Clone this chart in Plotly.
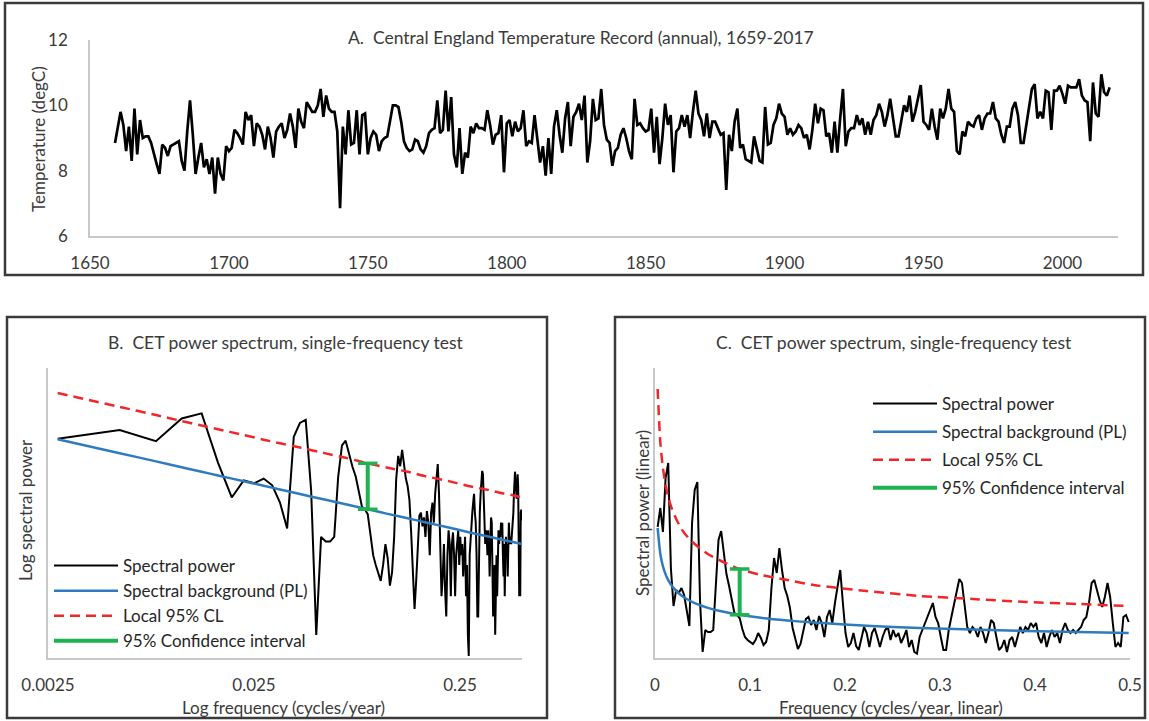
import plotly.graph_objects as go

W, H = 1149, 721

# ---------------- Panel A data: CET annual means, 1659-2017 ----------------
cet_temps = [
    8.85,
    9.3, 9.8, 9.4, 8.6, 9.35, 8.3, 9.9, 8.5, 9.55, 9.0,          # 1660s
    9.05, 9.05, 8.85, 8.5, 8.2, 7.9, 8.8, 8.7, 8.45, 8.75,       # 1670s
    8.8, 8.85, 8.9, 8.3, 8.0, 9.2, 10.15, 9.1, 7.9, 8.4,         # 1680s
    8.85, 8.1, 8.35, 7.9, 8.4, 7.3, 8.4, 7.9, 7.7, 8.75,         # 1690s
    8.6, 8.7, 9.25, 9.15, 9.0, 8.8, 9.8, 9.55, 9.7, 8.75,        # 1700s
    9.45, 9.35, 9.1, 8.65, 9.35, 9.0, 8.4, 9.2, 9.35, 9.45,      # 1710s
    9.0, 9.25, 9.75, 9.35, 8.7, 9.9, 9.5, 9.3, 10.1, 9.95,       # 1720s
    9.8, 9.8, 10.0, 10.5, 9.65, 10.3, 9.9, 9.8, 9.8, 9.2,        # 1730s
    6.85, 9.35, 8.5, 9.85, 8.8, 8.85, 9.85, 8.5, 9.7, 9.75,      # 1740s
    8.5, 9.0, 9.2, 9.1, 8.6, 8.9, 9.0, 9.05, 9.5, 10.0,          # 1750s
    10.0, 9.95, 9.5, 8.9, 8.7, 8.6, 8.65, 8.95, 8.9, 8.65,       # 1760s
    8.55, 8.75, 9.15, 9.25, 9.3, 10.15, 9.15, 9.25, 10.45, 9.2,  # 1770s
    10.25, 8.5, 8.1, 9.3, 7.9, 8.55, 8.4, 9.35, 9.15, 9.45,      # 1780s
    9.3, 9.3, 9.25, 9.85, 9.4, 8.8, 9.1, 9.15, 9.7, 7.95,        # 1790s
    9.45, 9.55, 9.05, 9.5, 9.2, 9.3, 9.85, 8.75, 8.9, 8.85,      # 1800s
    9.7, 9.0, 8.25, 8.75, 7.85, 9.0, 7.9, 9.35, 9.85, 9.1,       # 1810s
    8.55, 9.6, 10.1, 8.75, 9.65, 9.8, 10.05, 9.55, 10.3, 8.25,   # 1820s
    8.9, 10.2, 9.55, 9.6, 10.5, 9.4, 8.95, 8.85, 8.15, 8.6,      # 1830s
    8.7, 9.1, 9.3, 9.0, 8.6, 8.35, 10.2, 9.4, 9.45, 9.3,         # 1840s
    9.2, 9.25, 9.9, 8.55, 9.65, 8.2, 9.0, 10.05, 9.4, 9.7,       # 1850s
    7.95, 9.2, 9.3, 9.7, 9.35, 9.7, 9.0, 9.8, 10.45, 9.75,       # 1860s
    9.55, 9.05, 9.75, 9.0, 9.5, 9.5, 9.3, 9.1, 9.15, 7.41,       # 1870s
    9.1, 8.6, 9.5, 9.9, 8.7, 8.8, 8.35, 8.3, 8.25, 9.05,         # 1880s
    8.7, 8.3, 8.25, 9.95, 8.8, 8.85, 9.4, 9.6, 10.05, 9.75,      # 1890s
    9.65, 9.1, 9.3, 9.1, 9.2, 9.4, 9.3, 9.0, 9.1, 8.65,          # 1900s
    9.25, 10.05, 9.45, 9.9, 9.85, 9.05, 9.15, 8.55, 9.5, 8.55,   # 1910s
    9.6, 10.5, 8.75, 9.2, 9.3, 9.3, 9.7, 9.4, 9.6, 9.1,          # 1920s
    9.5, 9.1, 9.55, 9.7, 10.05, 9.8, 9.35, 9.7, 10.2, 9.6,       # 1930s
    9.05, 9.05, 9.6, 10.0, 9.8, 10.3, 9.5, 9.8, 10.2, 10.62,     # 1940s
    9.5, 9.4, 9.25, 9.9, 9.35, 8.95, 9.9, 9.6, 9.9, 10.5,        # 1950s
    9.9, 9.8, 8.6, 8.5, 9.2, 9.05, 9.5, 9.4, 9.35, 9.6,          # 1960s
    9.7, 9.25, 9.6, 9.75, 9.75, 10.1, 9.6, 9.5, 9.1, 8.85,       # 1970s
    9.35, 9.35, 9.9, 10.1, 9.7, 8.85, 8.85, 9.45, 9.9, 10.5,     # 1980s
    10.65, 9.6, 9.8, 9.6, 10.45, 10.4, 9.25, 10.45, 10.45, 10.6, # 1990s
    10.35, 10.05, 10.6, 10.55, 10.55, 10.55, 10.8, 10.3, 10.15, 10.1,  # 2000s
    8.9, 10.7, 9.75, 9.65, 10.95, 10.4, 10.3, 10.55,             # 2010-2017
]
first_year = 1659
years = list(range(first_year, first_year + len(cet_temps)))
a_xticks = [1650, 1700, 1750, 1800, 1850, 1900, 1950, 2000]
a_yticks = [6, 8, 10, 12]

# ---------------- Panels B & C data: power spectrum ----------------
record_length = 359
spec_k = list(range(1, 180))
spec_freq = [k / record_length for k in spec_k]
spec_power = [
    131, 150, 126, 180, 195, 90, 52, 68, 65, 70,
    63, 48, 32, 135, 168, 176, 58, 6, 28, 26,
    26, 28, 72, 118, 127, 102, 84, 72, 57, 45,
    43, 40, 29, 21, 18, 16, 14, 18, 25, 20,
    13, 16, 28, 70, 100, 85, 110, 88, 70, 62,
    50, 30, 18, 9, 14, 26, 39, 41, 33, 38,
    28, 42, 35, 21, 41, 48, 35, 55, 71, 88,
    55, 25, 11, 15, 25, 12, 8, 21, 31, 25,
    11, 25, 30, 21, 11, 21, 28, 31, 18, 28,
    21, 25, 15, 21, 28, 11, 18, 6, 4.3, 21,
    28, 35, 41, 48, 55, 41, 35, 21, 8, 8,
    28, 41, 55, 68, 79, 75, 55, 31, 25, 31,
    28, 21, 31, 25, 15, 25, 38, 35, 21, 8,
    11, 18, 6, 18, 21, 11, 21, 31, 25, 31,
    28, 35, 31, 35, 21, 15, 25, 11, 21, 28,
    21, 25, 15, 28, 35, 28, 25, 28, 25, 28,
    31, 38, 41, 55, 75, 78, 68, 58, 51, 61,
    75, 61, 35, 11, 15, 11, 41, 43, 36,
]

bg_k = [1, 2, 3, 4, 5, 6, 8, 10, 12, 15, 20, 25, 32, 40, 50, 60, 80, 100, 120, 140, 160, 179]
bg_freq = [k / record_length for k in bg_k]
bg_power = [130, 104.3, 91.7, 83.6, 77.9, 73.5, 67.1, 62.5, 59.0, 54.9, 50.1, 46.7,
            43.2, 40.2, 37.5, 35.4, 32.3, 30.0, 28.4, 27.0, 25.9, 25.0]
cl_power = [269, 216, 190, 173, 161, 152, 139, 129, 122, 114, 104, 97,
            89, 83, 78, 73, 67, 62, 59, 56, 54, 52]

ci_freq = 32 / record_length
ci_low = 43.2
ci_high = 89.0

b_xticks = [0.0025, 0.025, 0.25]
b_xticktext = ["0.0025", "0.025", "0.25"]
c_xticks = [0, 0.1, 0.2, 0.3, 0.4, 0.5]
c_xticktext = ["0", "0.1", "0.2", "0.3", "0.4", "0.5"]

# ---------------- styling ----------------
FONT = "Lato, 'Open Sans', sans-serif"
TXT = "#3a3a3a"
AXLINE = "#c8c8c8"
BLACK = "#000000"
BLUE = "#2e7bbf"
RED = "#f2262a"
GREEN = "#1db350"


def px(x):
    return x / W


def py(y):
    return 1 - y / H


fig = go.Figure()

# Panel A
fig.add_trace(go.Scatter(x=years, y=cet_temps, mode="lines",
                         line=dict(color=BLACK, width=2.7),
                         xaxis="x", yaxis="y", showlegend=False))

# Panels B (x2/y2) and C (x3/y3)
for xa, ya, lg, grp in [("x2", "y2", "legend", "b"), ("x3", "y3", "legend2", "c")]:
    fig.add_trace(go.Scatter(x=spec_freq, y=spec_power, mode="lines", name="Spectral power",
                             line=dict(color=BLACK, width=2), xaxis=xa, yaxis=ya,
                             legend=lg, legendgroup=grp + "1"))
    fig.add_trace(go.Scatter(x=bg_freq, y=bg_power, mode="lines", name="Spectral background (PL)",
                             line=dict(color=BLUE, width=2.5, shape="spline", smoothing=0.6),
                             xaxis=xa, yaxis=ya, legend=lg, legendgroup=grp + "2"))
    fig.add_trace(go.Scatter(x=bg_freq, y=cl_power, mode="lines", name="Local 95% CL",
                             line=dict(color=RED, width=2.5, dash="10px,6px", shape="spline", smoothing=0.6),
                             xaxis=xa, yaxis=ya, legend=lg, legendgroup=grp + "3"))
    fig.add_trace(go.Scatter(x=[ci_freq, ci_freq], y=[ci_low, ci_high], mode="lines",
                             name="95% Confidence interval",
                             line=dict(color=GREEN, width=4), xaxis=xa, yaxis=ya,
                             legend=lg, legendgroup=grp + "4"))
    fig.add_trace(go.Scatter(x=[ci_freq, ci_freq], y=[ci_low, ci_high], mode="markers",
                             marker=dict(symbol="line-ew", size=14,
                                         line=dict(color=GREEN, width=3.5)),
                             xaxis=xa, yaxis=ya, showlegend=False, hoverinfo="skip"))

axis_common = dict(showline=True, linecolor=AXLINE, linewidth=1.5, showgrid=False,
                   zeroline=False, automargin=False, tickcolor="rgba(0,0,0,0)",
                   tickfont=dict(family=FONT, size=17, color=TXT))

fig.update_layout(
    template="plotly",
    width=W, height=H,
    margin=dict(l=0, r=0, t=0, b=0, pad=0, autoexpand=False),
    paper_bgcolor="white", plot_bgcolor="rgba(0,0,0,0)",
    font=dict(family=FONT, size=17, color=TXT),
    xaxis=dict(domain=[px(90), px(1118)], range=[1650, 2020], tickvals=a_xticks,
               ticks="outside", ticklen=11, anchor="y", **axis_common),
    yaxis=dict(domain=[py(236), py(40)], range=[6, 12], tickvals=a_yticks,
               ticks="outside", ticklen=17, anchor="x", **axis_common),
    xaxis2=dict(domain=[px(48), px(522)], type="log", range=[-2.60206, -0.30103],
                tickvals=b_xticks, ticktext=b_xticktext, ticks="outside", ticklen=11,
                anchor="y2", **axis_common),
    yaxis2=dict(domain=[py(658), py(368)], type="log", range=[0.62, 2.6],
                showticklabels=False, ticks="", anchor="x2", **axis_common),
    xaxis3=dict(domain=[px(655), px(1130)], range=[0, 0.5], tickvals=c_xticks,
                ticktext=c_xticktext, ticks="outside", ticklen=11, anchor="y3", **axis_common),
    yaxis3=dict(domain=[py(658), py(368)], range=[0, 290], showticklabels=False,
                ticks="", anchor="x3", **axis_common),
    legend=dict(x=px(49), y=py(548), xanchor="left", yanchor="top",
                bgcolor="rgba(0,0,0,0)", itemwidth=64, tracegroupgap=0,
                font=dict(family=FONT, size=17, color="#262626")),
    legend2=dict(x=px(868), y=py(386), xanchor="left", yanchor="top",
                 bgcolor="rgba(0,0,0,0)", itemwidth=64, tracegroupgap=3,
                 font=dict(family=FONT, size=17, color="#262626")),
)

# panel frames
for (x0, y0, x1, y1) in [(5, 3, 1143, 275), (7, 317, 547, 718), (615, 317, 1145, 718)]:
    fig.add_shape(type="rect", xref="paper", yref="paper",
                  x0=px(x0), x1=px(x1), y0=py(y1), y1=py(y0),
                  line=dict(color="#3a3a3a", width=2.5), fillcolor="rgba(0,0,0,0)")

annots = [
    ("A.\u00a0 Central England Temperature Record (annual), 1659-2017", 581, 38, 0, 17.5),
    ("Temperature (degC)", 38, 139, -90, 17),
    ("B.\u00a0 CET power spectrum, single-frequency test", 286, 342, 0, 17.5),
    ("Log frequency (cycles/year)", 283, 707, 0, 17),
    ("Log spectral power", 25, 510, -90, 17),
    ("C.\u00a0 CET power spectrum, single-frequency test", 894, 342, 0, 17.5),
    ("Frequency (cycles/year, linear)", 891, 707, 0, 17),
    ("Spectral power (linear)", 642, 513, -90, 17),
]
for text, x, y, ang, fs in annots:
    fig.add_annotation(text=text, x=px(x), y=py(y), xref="paper", yref="paper",
                       showarrow=False, xanchor="center", yanchor="middle",
                       textangle=ang, font=dict(family=FONT, size=fs, color=TXT))

fig.write_html(
    "out.html",
    config={"displayModeBar": False},
    post_script="document.body.style.margin='0';document.body.style.overflow='hidden';",
)
